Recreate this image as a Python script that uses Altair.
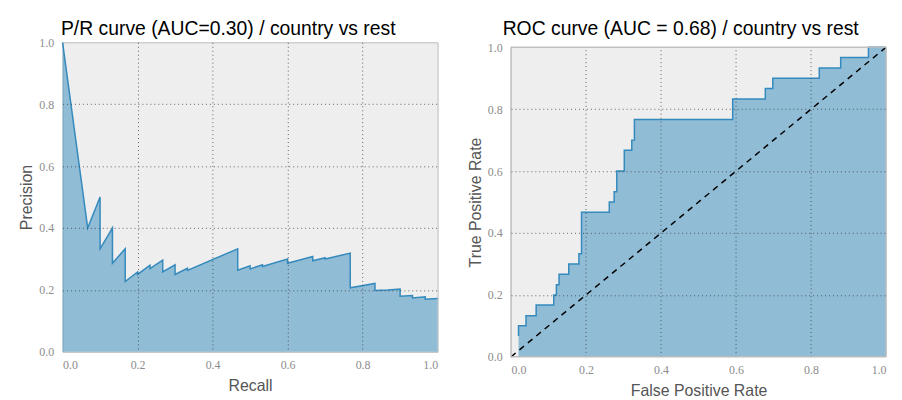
import altair as alt
import pandas as pd

# ---- P/R curve data ----
pr_recall = [0.0, 0.067, 0.1, 0.1, 0.133, 0.133, 0.167, 0.167, 0.2, 0.2, 0.233, 0.233,
             0.267, 0.267, 0.3, 0.3, 0.333, 0.333, 0.467, 0.467, 0.5, 0.5, 0.533, 0.533,
             0.6, 0.6, 0.667, 0.667, 0.7, 0.7, 0.767, 0.767, 0.833, 0.833, 0.867, 0.9,
             0.9, 0.933, 0.933, 0.967, 0.967, 1.0]
pr_precision = [1.0, 0.4, 0.5, 0.333, 0.4, 0.286, 0.333, 0.227, 0.258, 0.25, 0.28, 0.269,
                0.296, 0.258, 0.281, 0.25, 0.27, 0.263, 0.333, 0.264, 0.278, 0.268, 0.281, 0.276,
                0.3, 0.286, 0.308, 0.294, 0.304, 0.3, 0.319, 0.207, 0.221, 0.198, 0.2, 0.203,
                0.18, 0.182, 0.174, 0.178, 0.17, 0.172]

# ---- ROC curve data ----
roc_fpr = [0.020, 0.020, 0.040, 0.040, 0.067, 0.067, 0.114, 0.114, 0.121, 0.121, 0.128, 0.128,
           0.154, 0.154, 0.181, 0.181, 0.188, 0.188, 0.262, 0.262, 0.275, 0.275, 0.282, 0.282,
           0.302, 0.302, 0.322, 0.322, 0.329, 0.329, 0.591, 0.591, 0.678, 0.678, 0.698, 0.698,
           0.822, 0.822, 0.879, 0.879, 0.953, 0.953, 1.0]
roc_tpr = [0.067, 0.100, 0.100, 0.133, 0.133, 0.167, 0.167, 0.200, 0.200, 0.233, 0.233, 0.267,
           0.267, 0.300, 0.300, 0.333, 0.333, 0.467, 0.467, 0.500, 0.500, 0.533, 0.533, 0.600,
           0.600, 0.667, 0.667, 0.700, 0.700, 0.767, 0.767, 0.833, 0.833, 0.867, 0.867, 0.900,
           0.900, 0.933, 0.933, 0.967, 0.967, 1.000, 1.000]

diag_x = [0.0, 1.0]
diag_y = [0.0, 1.0]

tick_values = [0.0, 0.2, 0.4, 0.6, 0.8, 1.0]
inner_ticks = [0.2, 0.4, 0.6, 0.8]

BLUE = "#348ABD"
W, H = 378, 312
SHIFT = 5  # right panel sits a little lower than the left one

pr_df = pd.DataFrame({"i": range(len(pr_recall)), "recall": pr_recall, "precision": pr_precision})
roc_df = pd.DataFrame({"i": range(len(roc_fpr)), "fpr": roc_fpr, "tpr": roc_tpr})
diag_df = pd.DataFrame({"i": [0, 1], "x": diag_x, "y": diag_y})
grid_df = pd.DataFrame({"v": inner_ticks})

grid_op = {"condition": {"test": "datum.value <= 0.001 || datum.value >= 0.999", "value": 0}, "value": 0.75}


def xaxis(title, grid=True):
    return alt.Axis(values=tick_values, format=".1f", title=title, grid=grid, ticks=False, domain=False,
                    labelPadding=8, titlePadding=7, gridOpacity=grid_op, zindex=1)


def yaxis(title):
    return alt.Axis(values=tick_values, format=".1f", title=title, grid=True, ticks=False, domain=False,
                    labelPadding=9, titlePadding=4, gridOpacity=grid_op, zindex=1)


sc = alt.Scale(domain=[0, 1], nice=False, zero=False)

# ---- left panel ----
px = alt.X("recall:Q", scale=sc, axis=xaxis("Recall"))
py = alt.Y("precision:Q", scale=sc, stack=False, axis=yaxis("Precision"))
pr_area = alt.Chart(pr_df).mark_area(color=BLUE, opacity=0.5).encode(x=px, y=py)
pr_line = alt.Chart(pr_df).mark_line(color=BLUE, strokeWidth=1.5).encode(x=px, y=py, order="i:Q")
left = (pr_area + pr_line).properties(
    width=W, height=H,
    title=alt.TitleParams("P/R curve (AUC=0.30) / country vs rest", font="Liberation Sans",
                          fontSize=19.5, fontWeight="normal", color="black", anchor="middle",
                          frame="group", dx=-22, baseline="alphabetic", offset=-18))

# ---- right panel (drawn into a slightly taller group, plot box shifted down) ----
scy = alt.Scale(domain=[0, 1], nice=False, zero=False, range=[H + SHIFT, SHIFT])
rx = alt.X("fpr:Q", scale=sc, axis=xaxis("False Positive Rate", grid=False))
ry = alt.Y("tpr:Q", scale=scy, stack=False, axis=yaxis("True Positive Rate"))
bg = alt.Chart(diag_df).mark_rect(fill="#EEEEEE", strokeOpacity=0).encode(
    x=alt.X(datum=0, type="quantitative", scale=sc), x2=alt.X2(datum=1),
    y=alt.Y(datum=0, type="quantitative", scale=scy), y2=alt.Y2(datum=1))
frame = alt.Chart(diag_df).mark_rect(fillOpacity=0, stroke="#BCBCBC", strokeWidth=1).encode(
    x=alt.X(datum=0, type="quantitative", scale=sc), x2=alt.X2(datum=1),
    y=alt.Y(datum=0, type="quantitative", scale=scy), y2=alt.Y2(datum=1))
roc_area = alt.Chart(roc_df).mark_area(color=BLUE, opacity=0.5).encode(x=rx, y=ry)
roc_line = alt.Chart(roc_df).mark_line(color=BLUE, strokeWidth=1.5).encode(x=rx, y=ry, order="i:Q")
vgrid = alt.Chart(grid_df).mark_rule(color="#333333", strokeDash=[1, 3], strokeWidth=1, opacity=0.75).encode(
    x=alt.X("v:Q", scale=sc), y=alt.Y(datum=0, type="quantitative", scale=scy), y2=alt.Y2(datum=1))
diag = alt.Chart(diag_df).mark_line(color="black", strokeWidth=1.5, strokeDash=[6, 5]).encode(
    x=alt.X("x:Q", scale=sc), y=alt.Y("y:Q", scale=scy), order="i:Q")
right = (bg + roc_area + roc_line + vgrid + diag + frame).properties(
    width=W, height=H + SHIFT,
    view=alt.ViewBackground(fill="white", strokeOpacity=0),
    title=alt.TitleParams("ROC curve (AUC = 0.68) / country vs rest", font="Liberation Sans",
                          fontSize=19.5, fontWeight="normal", color="black", anchor="middle",
                          frame="group", dx=-18, baseline="alphabetic", offset=-13))

chart = alt.concat(left, right, columns=2, spacing=26, align="none").properties(
    padding={"left": 10, "top": 9, "right": 5, "bottom": 5},
    background="white"
).configure_view(
    fill="#EEEEEE", stroke="#BCBCBC", strokeWidth=1
).configure_axis(
    labelFont="Liberation Serif", labelFontSize=12, labelColor="#8c8c8c",
    titleFont="Liberation Sans", titleFontSize=16, titleFontWeight="normal", titleColor="#555555",
    gridColor="#333333", gridDash=[1, 3], gridWidth=1
)

chart.save("out.html", embed_options={"renderer": "svg", "actions": False})
